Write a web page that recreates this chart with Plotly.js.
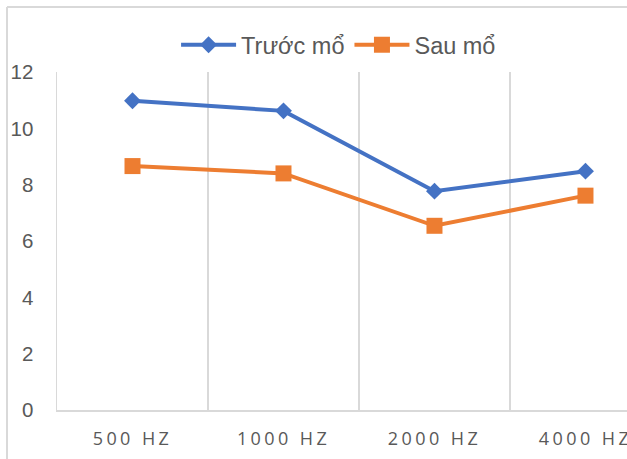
<!DOCTYPE html>
<html>
<head>
<meta charset="utf-8">
<script src="https://cdn.plot.ly/plotly-3.0.1.min.js"></script>
<style>
html,body{margin:0;padding:0;background:#fff;}
#chart .xtick text{letter-spacing:3.4px;}
</style>
</head>
<body>
<div id="chart" style="width:627px;height:459px;"></div>
<script>
var categories = ["500 HZ", "1000 HZ", "2000 HZ", "4000 HZ"];
var truocMo = [10.98, 10.62, 7.77, 8.48];
var sauMo = [8.66, 8.40, 6.54, 7.61];
var seriesNames = ["Trước mổ", "Sau mổ"];
var yTicks = [0, 2, 4, 6, 8, 10, 12];

var gridColor = "#d9d9d9";
var textColor = "#595959";

var traces = [
  {
    x: categories, y: truocMo, name: seriesNames[0], type: "scatter", mode: "lines+markers",
    line: {color: "#4472C4", width: 4},
    marker: {symbol: "diamond", size: 13, color: "#4472C4"}
  },
  {
    x: categories, y: sauMo, name: seriesNames[1], type: "scatter", mode: "lines+markers",
    line: {color: "#ED7D31", width: 4},
    marker: {symbol: "square", size: 16, color: "#ED7D31"}
  }
];

var layout = {
  width: 627, height: 459,
  margin: {l: 57, r: 0, t: 72, b: 49, pad: 0},
  paper_bgcolor: "#fff", plot_bgcolor: "#fff",
  showlegend: true,
  legend: {
    orientation: "h", x: 0.494, xanchor: "center", y: 1.08, yanchor: "middle",
    font: {family: "Liberation Sans, Arial, sans-serif", size: 23.5, color: textColor},
    itemwidth: 55, bgcolor: "rgba(0,0,0,0)"
  },
  xaxis: {
    type: "category", range: [-0.5, 3.275], tickson: "boundaries",
    showgrid: true, gridcolor: gridColor, gridwidth: 1.5,
    showline: true, linecolor: gridColor, linewidth: 1.5,
    ticks: "", ticklabelstandoff: 12,
    tickfont: {family: "Open Sans, sans-serif", size: 18, color: textColor},
    fixedrange: true
  },
  yaxis: {
    range: [0, 12], tickvals: yTicks, showgrid: false, zeroline: false,
    showline: true, linecolor: gridColor, linewidth: 1.5,
    ticks: "", ticklabelstandoff: 18,
    tickfont: {family: "Liberation Sans, Arial, sans-serif", size: 20.5, color: textColor},
    fixedrange: true
  },
  shapes: [
    {type: "line", xref: "paper", yref: "paper", x0: -0.0877, x1: -0.0877, y0: -0.2, y1: 1.1923,
     line: {color: gridColor, width: 2}},
    {type: "line", xref: "paper", yref: "paper", x0: -0.0877, x1: 1.05, y0: 1.1923, y1: 1.1923,
     line: {color: gridColor, width: 2}}
  ]
};

Plotly.newPlot("chart", traces, layout, {displayModeBar: false, staticPlot: true}).then(function(gd){
  var items = gd.querySelectorAll(".legend .traces");
  items.forEach(function(it){
    var ln = it.querySelector(".legendlines path");
    if (ln) ln.setAttribute("d", "M5,0h55");
    var pts = it.querySelectorAll(".legendpoints path");
    pts.forEach(function(p){ p.setAttribute("transform", "translate(32.5,0)"); });
  });
});
</script>
</body>
</html>
